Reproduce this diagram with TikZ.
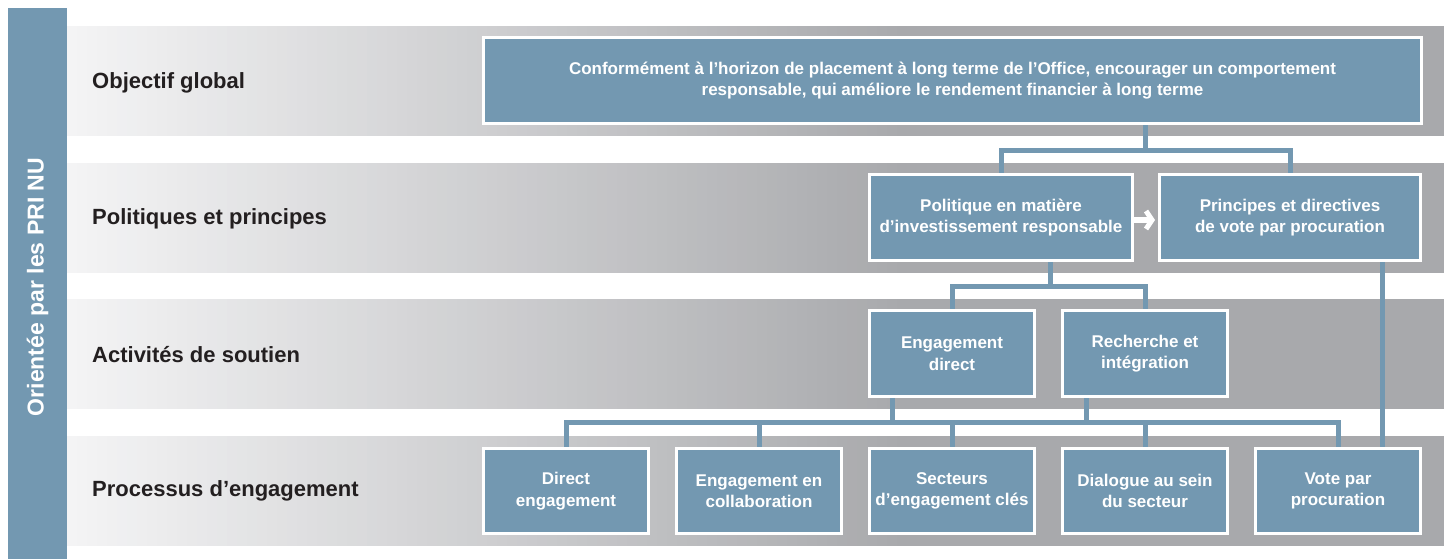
\documentclass[tikz,border=0pt]{standalone}
\usepackage{fontspec}
\setmainfont{Liberation Sans}
\usetikzlibrary{arrows.meta,backgrounds}
\definecolor{boxblue}{HTML}{7398B1}
\definecolor{bandL}{HTML}{F4F4F5}
\definecolor{bandR}{HTML}{A8A9AC}
\definecolor{labeltext}{HTML}{231F20}
\begin{document}
\begin{tikzpicture}[x=1pt,y=-1pt,
  box/.style={draw=white, line width=3pt, fill=boxblue, text=white,
    font=\bfseries\fontsize{17}{21.5}\selectfont, align=center,
    inner sep=0pt, outer sep=0pt, minimum height=86pt},
  smallbox/.style={box, minimum width=165pt},
  lowbox/.style={box, minimum width=165pt, minimum height=85pt},
  conn/.style={draw=boxblue, line width=5pt},
  rowlabel/.style={anchor=west, font=\bfseries\fontsize{22}{26}\selectfont,
    text=labeltext, inner sep=0pt}]
\useasboundingbox (0,0) rectangle (1447,559);

% side bar
\fill[boxblue] (8,8) rectangle (67,559);
\node[rotate=90, text=white, font=\bfseries\fontsize{23}{26}\selectfont, inner sep=0pt]
  (side) at (37.5,287) {Orientée par les PRI NU};

% row labels
\node[rowlabel] (l1) at (92,83) {Objectif global};
\node[rowlabel] (l2) at (92,219) {Politiques et principes};
\node[rowlabel] (l3) at (92,355) {Activités de soutien};
\node[rowlabel] (l4) at (92,491) {Processus d’engagement};

% boxes
\node[box, minimum width=938pt] (obj) at (952.5,80.5)
  {Conformément à l’horizon de placement à long terme de l’Office, encourager un comportement\\
   responsable, qui améliore le rendement financier à long terme};
\node[box, minimum width=263pt] (pol) at (1001,217.5)
  {Politique en matière\\d’investissement responsable};
\node[box, minimum width=261pt] (prin) at (1290,217.5)
  {Principes et directives\\de vote par procuration};
\node[smallbox] (engdir) at (952,353.5) {Engagement\\direct};
\node[smallbox] (rech) at (1145,353.5) {Recherche et\\intégration};
\node[lowbox] (b1) at (566,491) {Direct\\engagement};
\node[lowbox] (b2) at (759,491) {Engagement en\\collaboration};
\node[lowbox] (b3) at (952,491) {Secteurs\\d’engagement clés};
\node[lowbox] (b4) at (1145,491) {Dialogue au sein\\du secteur};
\node[lowbox] (b5) at (1338,491) {Vote par\\procuration};

% arrow between policy boxes
\draw[white, line width=5.5pt, line cap=butt,
  -{Straight Barb[length=6pt,width=18pt,line width=5pt]}]
  ([yshift=-2.5pt]pol.east) -- ([xshift=-4.5pt,yshift=-2.5pt]prin.west);

\begin{scope}[on background layer]
  % bands (horizontal gradient built from thin strips, then flat)
  \foreach \t in {26,162.5,299,435.5}{
    \foreach \i in {0,...,83}{
      \pgfmathsetmacro{\p}{100*\i/83}
      \pgfmathsetmacro{\xa}{67+10*\i}
      \fill[bandR!\p!bandL] (\xa,\t) rectangle (\xa+10.6,\t+110);
    }
    \fill[bandR] (900,\t) rectangle (1444,\t+110);
  }
  % junction coordinates
  \coordinate (j1) at (1145,150);
  \coordinate (j2) at (1050,286);
  \coordinate (bus) at (0,422);
  \coordinate (d1) at (892,0);
  \coordinate (d2) at (1086,0);
  \coordinate (d3) at (1382,0);
  % connectors
  \draw[conn] (obj.south -| j1) -- (j1);
  \draw[conn] (pol.north) |- (j1) -| (prin.north);
  \draw[conn] (pol.south -| j2) -- (j2);
  \draw[conn] (engdir.north) |- (j2) -| (rech.north);
  \draw[conn] (b1.north) -- (b1.north |- bus) -- (b5.north |- bus) -- (b5.north);
  \draw[conn] (b2.north) -- (b2.north |- bus);
  \draw[conn] (b3.north) -- (b3.north |- bus);
  \draw[conn] (b4.north) -- (b4.north |- bus);
  \draw[conn] (engdir.south -| d1) -- (bus -| d1);
  \draw[conn] (rech.south -| d2) -- (bus -| d2);
  \draw[conn] (prin.south -| d3) -- (b5.north -| d3);
\end{scope}
\end{tikzpicture}
\end{document}
